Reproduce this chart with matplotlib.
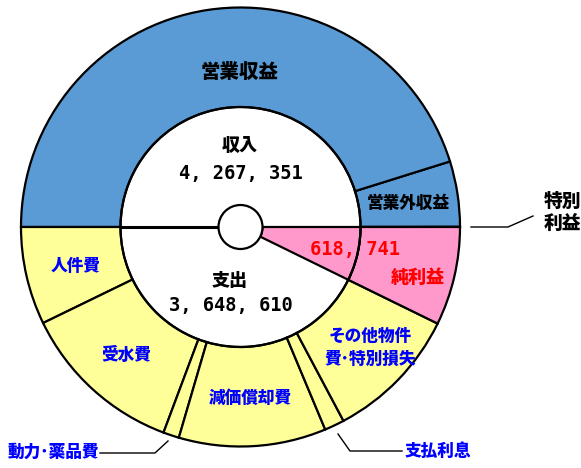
import matplotlib
matplotlib.use("Agg")
import matplotlib.pyplot as plt
from matplotlib.patches import Wedge, Circle

plt.rcParams["font.family"] = ["Noto Sans CJK JP", "DejaVu Sans"]

# income (upper half, counter-clockwise from the right)
income_labels = ["特別利益", "営業外収益", "営業収益"]
income_values = [2000, 410000, 3855351]
income_total = 4267351

# expenditure + net profit (lower half, counter-clockwise from the left)
spend_labels = ["人件費", "受水費", "動力･薬品費", "減価償却費", "支払利息",
                "その他物件費･特別損失", "純利益"]
spend_values = [615000, 1032000, 100000, 925000, 125000, 851610, 618741]
spend_total = 3648610
net_profit = 618741

BLUE, YELLOW, PINK = "#5B9BD5", "#FFFF99", "#FF99CC"

W, H = 581, 468
cx, cy = 240.5, H - 227
R, R_IN, R_HOLE = 219.5, 120, 22
LW = 1.6

fig = plt.figure(figsize=(W / 100, H / 100), dpi=100)
ax = fig.add_axes([0, 0, 1, 1])

colors = [BLUE] * 3 + [YELLOW] * 6 + [PINK]
ax.pie(income_values + spend_values, colors=colors, radius=R, center=(cx, cy),
       startangle=0, counterclock=True,
       wedgeprops=dict(width=R - R_IN, edgecolor="black", linewidth=LW))

# net profit wedge runs right into the centre hole
ang = 360 * net_profit / (2 * income_total)
ax.add_patch(Wedge((cx, cy), R_IN, 360 - ang, 360, width=R_IN - R_HOLE,
                   facecolor=PINK, edgecolor="black", linewidth=LW, zorder=3))
ax.add_patch(Circle((cx, cy), R_IN, fill=False, edgecolor="black", linewidth=LW, zorder=4))
ax.plot([cx - R_IN, cx - R_HOLE], [cy, cy], color="black", lw=2.2, zorder=4)
ax.add_patch(Circle((cx, cy), R_HOLE, facecolor="white", edgecolor="black", linewidth=LW, zorder=5))

def txt(x, y, s, color="black", size=13, **kw):
    ax.text(x, H - y, s, color=color, fontsize=size, fontweight="heavy",
            ha=kw.pop("ha", "center"), va="center", zorder=6, **kw)

def num(v):
    return f"{v:,}".replace(",", ", ")

mono = ["DejaVu Sans Mono"]
txt(240, 72, "営業収益", size=14)
txt(408, 203, "営業外収益", size=12)
txt(240, 145, "収入", size=13)
txt(241, 173, num(income_total), size=13.5, family=mono)
txt(230, 281, "支出", size=13)
txt(231, 306, num(spend_total), size=13.5, family=mono)
txt(355, 250, num(net_profit), color="red", size=13.5, family=mono)
txt(418, 277, "純利益", color="red", size=13)
txt(76, 266, "人件費", color="blue", size=12)
txt(126, 355, "受水費", color="blue", size=12)
txt(250, 398, "減価償却費", color="blue", size=12)
txt(370, 336, "その他物件", color="blue", size=12)
txt(370, 359, "費･特別損失", color="blue", size=12)

# leader lines for the thin slices
ax.plot([471, 508, 533], [H - 227, H - 227, H - 216], color="black", lw=1)
txt(544, 201, "特別", size=13.5, ha="left")
txt(544, 223, "利益", size=13.5, ha="left")
ax.plot([168, 155, 100], [H - 441, H - 453, H - 453], color="black", lw=1)
txt(8, 452, "動力･薬品費", color="blue", size=12, ha="left")
ax.plot([338, 350, 402], [H - 434, H - 451, H - 451], color="black", lw=1)
txt(405, 451, "支払利息", color="blue", size=12, ha="left")

ax.set_xlim(0, W)
ax.set_ylim(0, H)
ax.set_aspect("auto")
ax.axis("off")
fig.savefig("out.png", dpi=100, facecolor="white")
